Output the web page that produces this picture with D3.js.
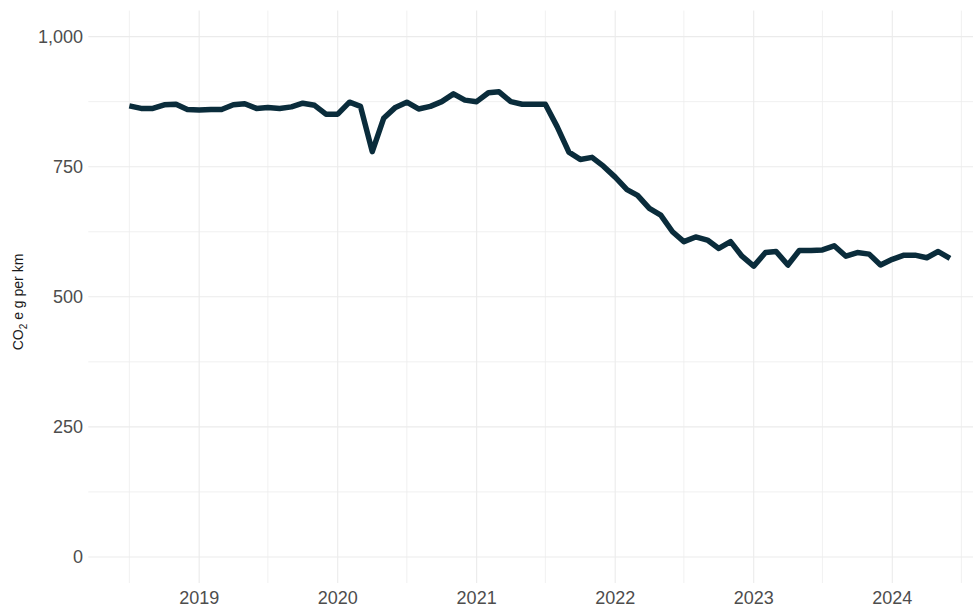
<!DOCTYPE html>
<html>
<head>
<meta charset="utf-8">
<script src="https://cdn.jsdelivr.net/npm/d3@7"></script>
<style>
  body { margin: 0; background: #ffffff; }
  svg { display: block; font-family: "Liberation Sans", Arial, sans-serif; }
</style>
</head>
<body>
<div class="chart"></div>
<script>
// monthly values, Jul 2018 .. Jun 2024
let startMonth = "2018-07-01";
let endMonth = "2024-07-01";
let co2Values = [
  867, 862, 862, 869, 870, 860, 859, 860, 860, 869, 871, 862,
  864, 862, 865, 872, 868, 851, 851, 874, 866, 779, 843, 864,
  874, 861, 866, 875, 890, 878, 875, 892, 894, 875, 870, 870,
  870, 827, 778, 764, 768, 751, 730, 706, 695, 670, 657, 625,
  606, 615, 609, 593, 606, 578, 559, 585, 587, 561, 589, 589,
  590, 598, 578, 585, 582, 561, 572, 580, 580, 575, 587, 574
];
let yTicks = [0, 250, 500, 750, 1000];
let yMinor = [125, 375, 625, 875];
let xTickYears = [2019, 2020, 2021, 2022, 2023, 2024];
let xMinorYears = [2018, 2019, 2020, 2021, 2022, 2023, 2024];

let months = d3.timeMonth.range(new Date(startMonth + "T00:00:00"), new Date(endMonth + "T00:00:00"));
let data = months.map((d, i) => ({ date: d, value: co2Values[i] }));

let width = 973, height = 607;
let panelLeft = 88.3, panelRight = 991, panelTop = 10.6, panelBottom = 583;

// 5% expansion on both axes, like ggplot
let t0 = months[0].getTime(), t1 = months[months.length - 1].getTime();
let pad = (t1 - t0) * 0.05;
let x = d3.scaleTime()
  .domain([new Date(t0 - pad), new Date(t1 + pad)])
  .range([panelLeft, panelRight]);

let y = d3.scaleLinear()
  .domain([-50, 1050])
  .range([panelBottom, panelTop]);

let svg = d3.select(".chart")
  .append("svg")
  .attr("width", width)
  .attr("height", height);

let grid = svg.append("g");

// minor gridlines
grid.selectAll(".ymin")
  .data(yMinor)
  .enter().append("line")
  .attr("x1", panelLeft).attr("x2", panelRight)
  .attr("y1", d => y(d)).attr("y2", d => y(d))
  .attr("stroke", "#ececec")
  .attr("stroke-width", 0.8);

grid.selectAll(".xmin")
  .data(xMinorYears)
  .enter().append("line")
  .attr("x1", d => x(new Date(d, 6, 1))).attr("x2", d => x(new Date(d, 6, 1)))
  .attr("y1", panelTop).attr("y2", panelBottom)
  .attr("stroke", "#ececec")
  .attr("stroke-width", 0.8);

// major gridlines
grid.selectAll(".ymaj")
  .data(yTicks)
  .enter().append("line")
  .attr("x1", panelLeft).attr("x2", panelRight)
  .attr("y1", d => y(d)).attr("y2", d => y(d))
  .attr("stroke", "#ebebeb")
  .attr("stroke-width", 1.1);

grid.selectAll(".xmaj")
  .data(xTickYears)
  .enter().append("line")
  .attr("x1", d => x(new Date(d, 0, 1))).attr("x2", d => x(new Date(d, 0, 1)))
  .attr("y1", panelTop).attr("y2", panelBottom)
  .attr("stroke", "#ebebeb")
  .attr("stroke-width", 1.1);

// tick labels
svg.selectAll(".ylab")
  .data(yTicks)
  .enter().append("text")
  .attr("x", 83)
  .attr("y", d => y(d))
  .attr("dy", "0.36em")
  .attr("text-anchor", "end")
  .attr("font-size", 18)
  .attr("fill", "#4d4d4d")
  .text(d => d3.format(",")(d));

svg.selectAll(".xlab")
  .data(xTickYears)
  .enter().append("text")
  .attr("x", d => x(new Date(d, 0, 1)))
  .attr("y", 604)
  .attr("text-anchor", "middle")
  .attr("font-size", 18)
  .attr("fill", "#4d4d4d")
  .text(d => d);

// y axis title with subscript
let title = svg.append("text")
  .attr("transform", "translate(23," + 302 + ") rotate(-90)")
  .attr("text-anchor", "middle")
  .attr("font-size", 14)
  .attr("fill", "#1a1a1a");
title.append("tspan").text("CO");
title.append("tspan").attr("font-size", 10).attr("dy", 4).text("2");
title.append("tspan").attr("dy", -4).text(" e g per km");

// the line
let line = d3.line()
  .x(d => x(d.date))
  .y(d => y(d.value));

svg.append("path")
  .datum(data)
  .attr("d", line)
  .attr("fill", "none")
  .attr("stroke", "#0a2c3b")
  .attr("stroke-width", 5.5)
  .attr("stroke-linejoin", "round");
</script>
</body>
</html>
